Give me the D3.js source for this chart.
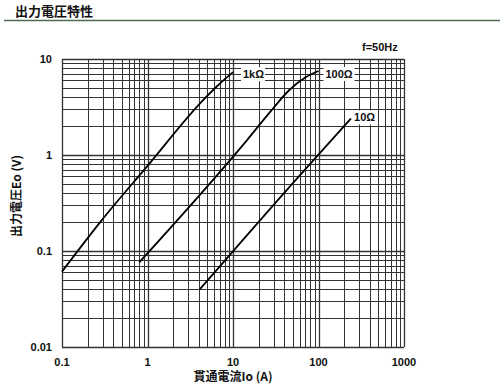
<!DOCTYPE html>
<html>
<head>
<meta charset="utf-8">
<script src="https://cdn.jsdelivr.net/npm/d3@7"></script>
<style>
  body { margin: 0; background: #fff; }
  svg text { font-family: "Liberation Sans", Arial, sans-serif; fill: #111; }
  .cjk { font-family: "Noto Sans CJK JP", sans-serif; }
</style>
</head>
<body>
<div class="chart"></div>
<script>
// values (current A, voltage V)
const load1k = [[0.1, 0.061], [0.28, 0.2], [1, 0.77], [4.5, 3.75], [6.5, 5.2], [10, 7.3]];
const load100 = [[0.8, 0.076], [14.6, 1.43], [28, 2.9], [45, 4.7], [70, 6.4], [100, 7.5]];
const load10 = [[4.1, 0.04], [59, 0.6], [240, 2.4]];
const seriesNames = ["1kΩ", "100Ω", "10Ω"];
const xTicks = [0.1, 1, 10, 100, 1000];
const xTickLabels = ["0.1", "1", "10", "100", "1000"];
const yTicks = [0.01, 0.1, 1, 10];
const yTickLabels = ["0.01", "0.1", "1", "10"];

const W = 500, H = 388;
const margin = ({top: 59, right: 96, bottom: 41, left: 62});
const width = W - margin.left - margin.right,
      height = H - margin.top - margin.bottom;

const root = d3.select(".chart").append("svg")
  .attr("width", W)
  .attr("height", H);

// page heading
root.append("text")
  .attr("class", "cjk")
  .attr("x", 15).attr("y", 16)
  .style("font-size", "13px").style("font-weight", "bold")
  .text("出力電圧特性");
root.append("line")
  .attr("x1", 4).attr("x2", 500)
  .attr("y1", 20.5).attr("y2", 20.5)
  .attr("stroke", "#4f6b52").attr("stroke-width", 1.5);

const svg = root.append("g")
  .attr("transform", "translate(" + margin.left + "," + margin.top + ")");

const xScale = d3.scaleLog().domain([0.1, 1000]).range([0, width]);
const yScale = d3.scaleLog().domain([0.01, 10]).range([height, 0]);

// log grid: every 1..9 of each decade
let xGrid = [];
for (let e = -1; e < 3; e++) for (let k = 1; k < 10; k++) xGrid.push(k * Math.pow(10, e));
xGrid.push(1000);
let yGrid = [];
for (let e = -2; e < 1; e++) for (let k = 1; k < 10; k++) yGrid.push(k * Math.pow(10, e));
yGrid.push(10);

svg.selectAll(".vgrid")
  .data(xGrid)
  .enter()
  .append("line")
  .attr("x1", d => Math.round(xScale(d)) + 0.5)
  .attr("x2", d => Math.round(xScale(d)) + 0.5)
  .attr("y1", 0).attr("y2", height)
  .attr("stroke", "#333")
  .attr("stroke-width", d => xTicks.includes(+d.toPrecision(3)) ? 1.3 : 1);

svg.selectAll(".hgrid")
  .data(yGrid)
  .enter()
  .append("line")
  .attr("y1", d => Math.round(yScale(d)) + 0.5)
  .attr("y2", d => Math.round(yScale(d)) + 0.5)
  .attr("x1", 0).attr("x2", width)
  .attr("stroke", "#333")
  .attr("stroke-width", d => yTicks.includes(+d.toPrecision(3)) ? 1.3 : 1);

// curves
const line = d3.line()
  .x(d => xScale(d[0]))
  .y(d => yScale(d[1]))
  .curve(d3.curveMonotoneX);

const curves = [load1k, load100, load10];
svg.selectAll(".curve")
  .data(curves)
  .enter()
  .append("path")
  .attr("d", line)
  .attr("fill", "none")
  .attr("stroke", "#000")
  .attr("stroke-width", 1.8);

// curve labels with white backing
const labelOffsets = [[10, 2], [7, 3], [3, -1]];
const lab = svg.selectAll(".lab")
  .data(curves)
  .enter()
  .append("g")
  .attr("transform", (d, i) => {
    const p = d[d.length - 1];
    return "translate(" + (xScale(p[0]) + labelOffsets[i][0]) + "," + (yScale(p[1]) + labelOffsets[i][1]) + ")";
  });
lab.append("rect")
  .attr("x", -2).attr("y", -7)
  .attr("width", (d, i) => i === 1 ? 31 : 24)
  .attr("height", 14)
  .attr("fill", "#fff");
lab.append("text")
  .attr("dy", "0.35em")
  .style("font-size", "11px").style("font-weight", "bold")
  .text((d, i) => seriesNames[i]);

// tick labels
svg.selectAll(".xt")
  .data(xTicks)
  .enter()
  .append("text")
  .attr("x", d => xScale(d))
  .attr("y", height + 15)
  .attr("dy", "0.35em")
  .attr("text-anchor", "middle")
  .style("font-size", "11px").style("font-weight", "bold")
  .text((d, i) => xTickLabels[i]);

svg.selectAll(".yt")
  .data(yTicks)
  .enter()
  .append("text")
  .attr("x", -10)
  .attr("y", d => yScale(d))
  .attr("dy", "0.35em")
  .attr("text-anchor", "end")
  .style("font-size", "11px").style("font-weight", "bold")
  .text((d, i) => yTickLabels[i]);

// axis titles
svg.append("text")
  .attr("class", "cjk")
  .attr("x", xScale(10))
  .attr("y", height + 30)
  .attr("dy", "0.35em")
  .attr("text-anchor", "middle")
  .style("font-size", "12px").style("font-weight", "bold")
  .text("貫通電流Io (A)");

svg.append("text")
  .attr("class", "cjk")
  .attr("transform", "translate(" + (17 - margin.left) + "," + (196 - margin.top) + ") rotate(-90)")
  .attr("dy", "0.35em")
  .attr("text-anchor", "middle")
  .style("font-size", "12px").style("font-weight", "bold")
  .text("出力電圧Eo (V)");

svg.append("text")
  .attr("x", 362 - margin.left)
  .attr("y", 47 - margin.top)
  .attr("dy", "0.35em")
  .style("font-size", "11px").style("font-weight", "bold")
  .text("f=50Hz");
</script>
</body>
</html>
